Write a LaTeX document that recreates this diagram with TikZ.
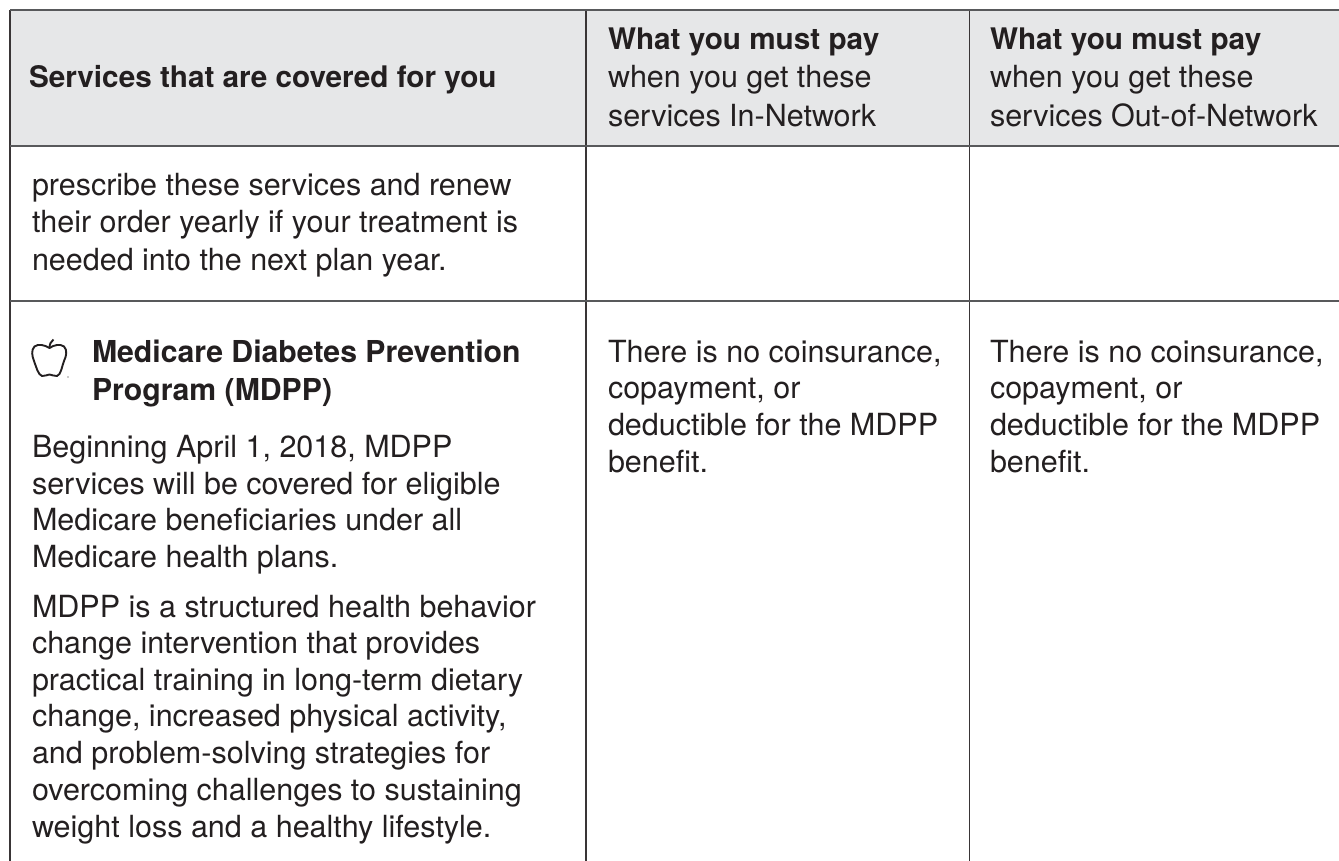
\documentclass[tikz,border=0pt]{standalone}
\usepackage{fontspec}
\setmainfont{TeX Gyre Heros}
\definecolor{ink}{HTML}{231F20}
\definecolor{rulec}{HTML}{58595B}
\definecolor{band}{HTML}{E6E7E8}
\tikzset{
  body/.style={anchor=base west,inner sep=0pt,outer sep=0pt,text=ink,font=\fontsize{30.5}{36}\selectfont},
  head/.style={body,font=\fontsize{29.7}{36}\selectfont\bfseries},
  title/.style={body,font=\fontsize{30.2}{36}\selectfont\bfseries},
  hrule/.style={draw=rulec,line width=1.7pt},
  vrule/.style={draw=ink!90!white,line width=1.3pt}
}
\begin{document}
\begin{tikzpicture}[x=1pt,y=-1pt]
\useasboundingbox (0,0) rectangle (1339,861);
\fill[band] (10,10) rectangle (1339,146);
\coordinate (tl) at (10,10); \coordinate (tr) at (1339,10);
\coordinate (ml) at (10,146); \coordinate (mr) at (1339,146);
\coordinate (rl) at (10,301); \coordinate (rr) at (1339,301);
\coordinate (a0) at (10,10); \coordinate (a1) at (10,861);
\coordinate (b0) at (586,10); \coordinate (b1) at (586,861);
\coordinate (c0) at (969.5,10); \coordinate (c1) at (969.5,861);
\draw[vrule] (a0)--(a1);
\draw[vrule] (b0)--(b1);
\draw[vrule] (c0)--(c1);
\draw[hrule] (tl)--(tr);
\draw[hrule] (ml)--(mr);
\draw[hrule] (rl)--(rr);
\node[head] (h1) at (29,88) {Services that are covered for you};
\node[head] (h2a) at (608,50) {What you must pay};
\node[body] (h2b) at (608,88) {when you get these};
\node[body] (h2c) at (608,127) {services In-Network};
\node[head] (h3a) at (990,50) {What you must pay};
\node[body] (h3b) at (990,88) {when you get these};
\node[body] (h3c) at (990,127) {services Out-of-Network};
\node[body] (p1) at (32,196) {prescribe these services and renew};
\node[body] (p2) at (32,233) {their order yearly if your treatment is};
\node[body] (p3) at (32,270) {needed into the next plan year.};
\node[title] (t1) at (92,362) {Medicare Diabetes Prevention};
\node[title] (t2) at (92,400) {Program (MDPP)};
\node[body] (q1) at (32,457) {Beginning April 1, 2018, MDPP};
\node[body] (q2) at (32,494) {services will be covered for eligible};
\node[body] (q3) at (32,530) {Medicare beneficiaries under all};
\node[body] (q4) at (32,567) {Medicare health plans.};
\node[body] (r1) at (32,617) {MDPP is a structured health behavior};
\node[body] (r2) at (32,653) {change intervention that provides};
\node[body] (r3) at (32,690) {practical training in long-term dietary};
\node[body] (r4) at (32,726) {change, increased physical activity,};
\node[body] (r5) at (32,763) {and problem-solving strategies for};
\node[body] (r6) at (32,800) {overcoming challenges to sustaining};
\node[body] (r7) at (32,837) {weight loss and a healthy lifestyle.};
\node[body] (s1) at (608,362) {There is no coinsurance,};
\node[body] (s2) at (608,398) {copayment, or};
\node[body] (s3) at (608,435) {deductible for the MDPP};
\node[body] (s4) at (608,472) {benefit.};
\node[body] (u1) at (990,362) {There is no coinsurance,};
\node[body] (u2) at (990,398) {copayment, or};
\node[body] (u3) at (990,435) {deductible for the MDPP};
\node[body] (u4) at (990,472) {benefit.};
\draw[ink,line width=1.9pt,line join=round] (49.5,348) .. controls (45,345) and (38,343.5) .. (34.5,346.5) .. controls (31,350) and (32,356) .. (34,361) .. controls (36,366) and (38,375) .. (42,376) .. controls (45,376.5) and (47,374.5) .. (49.5,374.5) .. controls (52,374.5) and (54,376.5) .. (57,376) .. controls (61,375) and (62,366) .. (64,361) .. controls (66.5,356) and (67.5,350) .. (64,346.5) .. controls (60,343.5) and (54,345) .. (49.5,348) -- cycle;
\draw[ink,line width=1.9pt] (49.5,348) .. controls (49.5,344) and (51,341.5) .. (53.5,339.5);
\fill[ink] (68,377) circle (0.7);
\end{tikzpicture}
\end{document}
